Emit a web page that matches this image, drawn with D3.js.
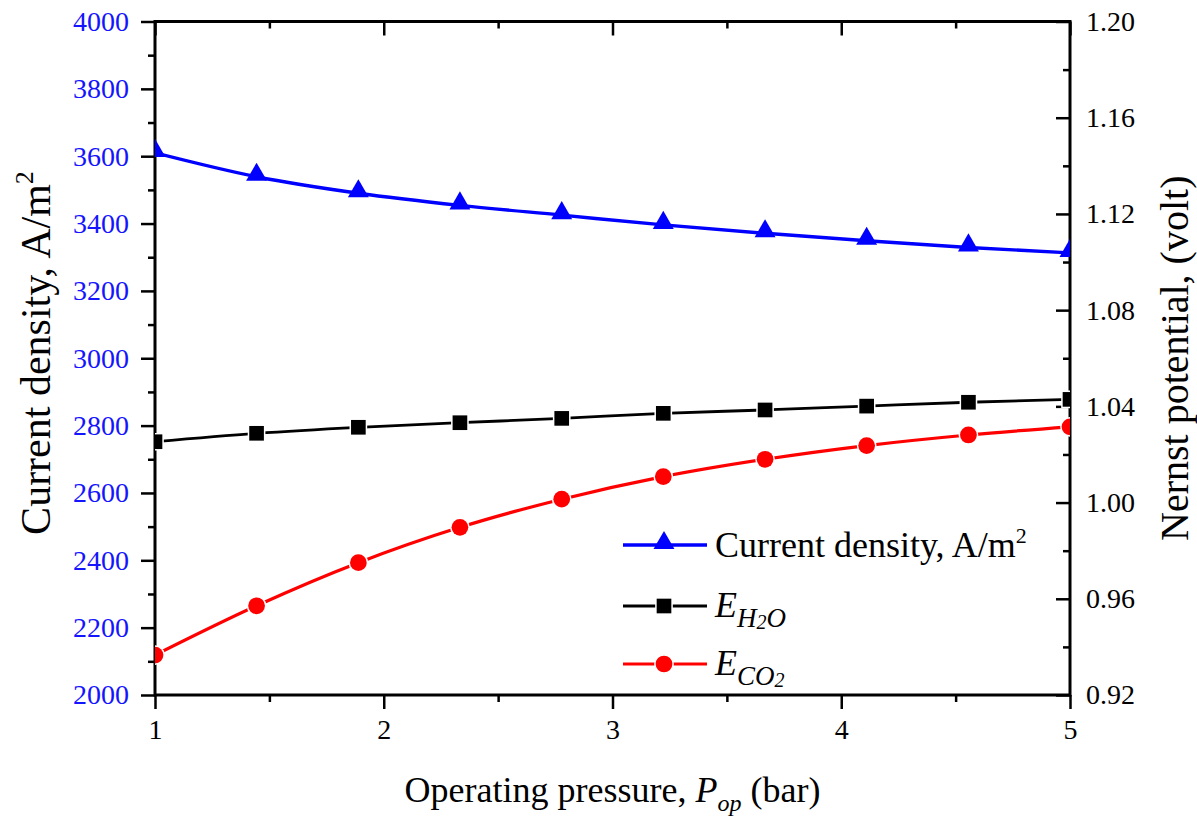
<!DOCTYPE html>
<html>
<head>
<meta charset="utf-8">
<script src="https://cdnjs.cloudflare.com/ajax/libs/d3/7.8.5/d3.min.js"></script>
<style>
  body { margin: 0; background: #fff; }
  svg, svg text { font-family: "Liberation Serif", "Times New Roman", serif; }
</style>
</head>
<body>
<script>
// operating pressure (bar)
const pressure = [1, 1.444, 1.889, 2.333, 2.778, 3.222, 3.667, 4.111, 4.556, 5];
// current density, A/m2 (left axis)
const currentDensity = [3610, 3539, 3490, 3454, 3425, 3396, 3371, 3349, 3329, 3313];
// Nernst potential, volt (right axis)
const eH2O = [1.0253, 1.0288, 1.0313, 1.0332, 1.0350, 1.0371, 1.0385, 1.0401, 1.0417, 1.0429];
const eCO2 = [0.9366, 0.9571, 0.9750, 0.9897, 1.0014, 1.0108, 1.0180, 1.0237, 1.0281, 1.0315];

const xTicks = [1, 2, 3, 4, 5];
const xMinor = [1.5, 2.5, 3.5, 4.5];
const leftTicks = [2000, 2200, 2400, 2600, 2800, 3000, 3200, 3400, 3600, 3800, 4000];
const leftMinor = [2100, 2300, 2500, 2700, 2900, 3100, 3300, 3500, 3700, 3900];
const rightTicks = [0.92, 0.96, 1.00, 1.04, 1.08, 1.12, 1.16, 1.20];
const rightMinor = [0.94, 0.98, 1.02, 1.06, 1.10, 1.14, 1.18];

const chart = {
    width: 1197,
    height: 820,
    margin: { top: 21.5, left: 155, right: 127, bottom: 125 }
};
const plotW = chart.width - chart.margin.left - chart.margin.right;
const plotH = chart.height - chart.margin.top - chart.margin.bottom;

let svg = d3.select("body")
    .append("svg")
    .attr("width", chart.width)
    .attr("height", chart.height);

let g = svg.append("g")
    .attr("transform", `translate(${chart.margin.left},${chart.margin.top})`);

let x = d3.scaleLinear().domain([1, 5]).range([0, plotW]);
let yL = d3.scaleLinear().domain([2000, 4000]).range([plotH, 0]);
let yR = d3.scaleLinear().domain([0.92, 1.20]).range([plotH, 0]);

g.append("clipPath").attr("id", "plotclip")
    .append("rect").attr("width", plotW).attr("height", plotH);

// axes
function styleAxis(sel, color) {
    sel.attr("font-family", null).attr("font-size", null);
    sel.select(".domain").remove();
    sel.selectAll(".tick line").attr("stroke", "#000").attr("stroke-width", 2.5);
    sel.selectAll(".tick text")
        .attr("fill", color)
        .style("font-family", "'Liberation Serif', 'Times New Roman', serif")
        .style("font-size", "28px");
}

g.append("g").attr("transform", `translate(0,${plotH})`)
    .call(d3.axisBottom(x).tickValues(xTicks).tickFormat(d3.format("d")).tickSize(14).tickPadding(10).tickSizeOuter(0))
    .call(s => styleAxis(s, "#000"));
g.append("g").attr("transform", `translate(0,${plotH})`)
    .call(d3.axisBottom(x).tickValues(xMinor).tickFormat("").tickSize(7).tickSizeOuter(0))
    .call(s => styleAxis(s, "#000"));
g.append("g")
    .call(d3.axisBottom(x).tickValues(xTicks).tickFormat("").tickSize(14).tickSizeOuter(0))
    .call(s => styleAxis(s, "#000"));
g.append("g")
    .call(d3.axisBottom(x).tickValues(xMinor).tickFormat("").tickSize(7).tickSizeOuter(0))
    .call(s => styleAxis(s, "#000"));

g.append("g")
    .call(d3.axisLeft(yL).tickValues(leftTicks).tickFormat(d3.format("d")).tickSize(14).tickPadding(12).tickSizeOuter(0))
    .call(s => styleAxis(s, "#1414ff"));
g.append("g")
    .call(d3.axisLeft(yL).tickValues(leftMinor).tickFormat("").tickSize(7).tickSizeOuter(0))
    .call(s => styleAxis(s, "#000"));

g.append("g").attr("transform", `translate(${plotW},0)`)
    .call(d3.axisRight(yR).tickValues(rightTicks).tickFormat(d3.format(".2f")).tickSize(-14).tickPadding(16).tickSizeOuter(0))
    .call(s => styleAxis(s, "#000"));
g.append("g").attr("transform", `translate(${plotW},0)`)
    .call(d3.axisRight(yR).tickValues(rightMinor).tickFormat("").tickSize(-7).tickSizeOuter(0))
    .call(s => styleAxis(s, "#000"));

g.append("rect")
    .attr("width", plotW).attr("height", plotH)
    .attr("fill", "none").attr("stroke", "#000").attr("stroke-width", 3);

// series
const series = [
    { name: "current", values: currentDensity, scale: yL, color: "#0000ff", marker: "triangle", width: 3.4 },
    { name: "h2o", values: eH2O, scale: yR, color: "#000000", marker: "square", width: 2.8 },
    { name: "co2", values: eCO2, scale: yR, color: "#ff0000", marker: "circle", width: 3.2 }
];

const symbolFor = {
    triangle: d3.symbol().type(d3.symbolTriangle).size(190),
    square: d3.symbol().type(d3.symbolSquare).size(215),
    circle: d3.symbol().type(d3.symbolCircle).size(220)
};

let plot = g.append("g").attr("clip-path", "url(#plotclip)");

series.forEach(s => {
    let line = d3.line()
        .x((d, i) => x(pressure[i]))
        .y(d => s.scale(d))
        .curve(d3.curveMonotoneX);
    plot.append("path")
        .datum(s.values)
        .attr("fill", "none")
        .attr("stroke", s.color)
        .attr("stroke-width", s.width)
        .attr("d", line);
    plot.selectAll(".m-" + s.name)
        .data(s.values)
        .enter()
        .append("path")
        .attr("class", "m-" + s.name)
        .attr("transform", (d, i) => `translate(${x(pressure[i])},${s.scale(d) + (s.marker === "triangle" ? -2 : 0)})`)
        .attr("d", symbolFor[s.marker]())
        .attr("fill", s.color)
        .attr("stroke", s.marker === "triangle" ? "none" : "#fff")
        .attr("stroke-width", 3)
        .attr("paint-order", "stroke");
});

// legend
const legendRows = [
    { s: series[0], y: 545 },
    { s: series[1], y: 606 },
    { s: series[2], y: 664 }
];
let legend = svg.append("g");
legendRows.forEach(r => {
    legend.append("line")
        .attr("x1", 623).attr("x2", 707)
        .attr("y1", r.y).attr("y2", r.y)
        .attr("stroke", r.s.color).attr("stroke-width", r.s.width);
    legend.append("path")
        .attr("transform", `translate(664,${r.y + (r.s.marker === "triangle" ? -2 : 0)})`)
        .attr("d", symbolFor[r.s.marker]())
        .attr("fill", r.s.color)
        .attr("stroke", r.s.marker === "triangle" ? "none" : "#fff")
        .attr("stroke-width", 3)
        .attr("paint-order", "stroke");
});

let t1 = legend.append("text").attr("x", 715).attr("y", 557).style("font-size", "36px");
t1.append("tspan").text("Current density, A/m");
t1.append("tspan").attr("dy", -14).style("font-size", "22px").text("2");

let t2 = legend.append("text").attr("x", 715).attr("y", 617).style("font-size", "36px").style("font-style", "italic");
t2.append("tspan").text("E");
t2.append("tspan").attr("dy", 10).style("font-size", "27px").text("H");
t2.append("tspan").attr("dy", 2).style("font-size", "20px").text("2");
t2.append("tspan").attr("dy", -2).style("font-size", "27px").text("O");

let t3 = legend.append("text").attr("x", 715).attr("y", 675).style("font-size", "36px").style("font-style", "italic");
t3.append("tspan").text("E");
t3.append("tspan").attr("dy", 10).style("font-size", "27px").text("CO");
t3.append("tspan").attr("dy", 2).style("font-size", "20px").text("2");

// axis titles
let xt = svg.append("text")
    .attr("x", chart.margin.left + plotW / 2)
    .attr("y", 802)
    .attr("text-anchor", "middle")
    .style("font-size", "36px");
xt.append("tspan").text("Operating pressure, ");
xt.append("tspan").style("font-style", "italic").text("P");
xt.append("tspan").style("font-style", "italic").style("font-size", "24px").attr("dy", 9).text("op");
xt.append("tspan").attr("dy", -9).text(" (bar)");

let yt = svg.append("text")
    .attr("transform", `translate(50,353) rotate(-90)`)
    .attr("text-anchor", "middle")
    .style("font-size", "42px");
yt.append("tspan").text("Current density, A/m");
yt.append("tspan").attr("dy", -17).style("font-size", "26px").text("2");

svg.append("text")
    .attr("transform", `translate(1188,${chart.margin.top + plotH / 2}) rotate(-90)`)
    .attr("text-anchor", "middle")
    .style("font-size", "40px")
    .text("Nernst potential, (volt)");
</script>
</body>
</html>
